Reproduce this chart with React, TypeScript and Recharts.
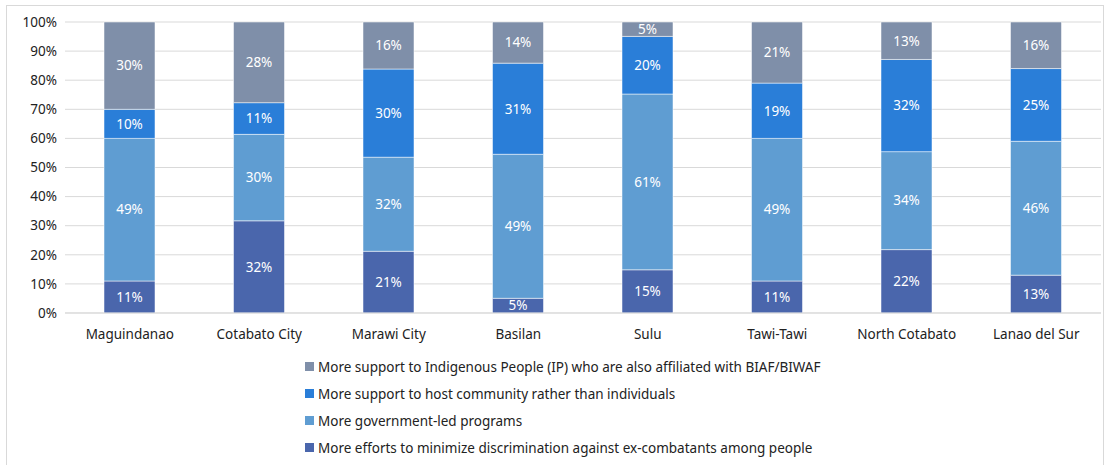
import { BarChart, Bar, XAxis, YAxis, CartesianGrid, LabelList } from 'recharts'

const provinces = ['Maguindanao', 'Cotabato City', 'Marawi City', 'Basilan', 'Sulu', 'Tawi-Tawi', 'North Cotabato', 'Lanao del Sur']
const effortsDiscrimination = [11, 32, 21, 5, 15, 11, 22, 13]
const governmentLed = [49, 30, 32, 49, 61, 49, 34, 46]
const hostCommunity = [10, 11, 30, 31, 20, 19, 32, 25]
const supportIP = [30, 28, 16, 14, 5, 21, 13, 16]
const yTicks = [0, 0.1, 0.2, 0.3, 0.4, 0.5, 0.6, 0.7, 0.8, 0.9, 1]

const series = [
  { key: 'efforts', name: 'More efforts to minimize discrimination against ex-combatants among people', color: '#4A66AC' },
  { key: 'gov', name: 'More government-led programs', color: '#5F9DD2' },
  { key: 'host', name: 'More support to host community rather than individuals', color: '#2A7ED8' },
  { key: 'ip', name: 'More support to Indigenous People (IP) who are also affiliated with BIAF/BIWAF', color: '#7F8FA9' },
]

const data = provinces.map((name, i) => ({
  name,
  efforts: effortsDiscrimination[i],
  gov: governmentLed[i],
  host: hostCommunity[i],
  ip: supportIP[i],
}))

const font = "'Noto Sans', sans-serif"

export default function App() {
  return (
    <div style={{ position: 'fixed', top: 0, left: 0, width: 1110, height: 465, background: '#fff' }}>
      <div style={{ position: 'absolute', left: 6, top: 5, width: 1096, height: 470, border: '1px solid #D9D9D9' }} />
      <BarChart width={1110} height={465} data={data} stackOffset="expand" barSize={51}
        margin={{ top: 22, right: 9, left: 8, bottom: 122 }}>
        <CartesianGrid stroke="#D9D9D9" vertical={false} />
        <XAxis dataKey="name" height={30} tickLine={false} axisLine={{ stroke: '#D9D9D9' }} interval={0}
          tick={{ fontSize: 13.5, fill: '#222', fontFamily: font }} tickMargin={10} />
        <YAxis ticks={yTicks} domain={[0, 1]} width={57} tickLine={false} axisLine={false} interval={0}
          tickFormatter={(v: number) => `${Math.round(v * 100)}%`}
          tick={{ fontSize: 13.5, fill: '#222', fontFamily: font }} />
        {series.map(s => (
          <Bar key={s.key} dataKey={s.key} name={s.name} stackId="a" fill={s.color}
            stroke="#ffffff" strokeOpacity={0.5} isAnimationActive={false}>
            <LabelList dataKey={s.key} position="center" formatter={(v: number) => `${v}%`}
              style={{ fontSize: 13.5, fill: '#fff', fontFamily: font }} />
          </Bar>
        ))}
      </BarChart>
      <div style={{ position: 'absolute', left: 305, top: 353, fontFamily: font, fontSize: 13.5, color: '#222' }}>
        {[...series].reverse().map(s => (
          <div key={s.key} style={{ display: 'flex', alignItems: 'center', height: 27 }}>
            <span style={{ width: 9, height: 9, background: s.color, marginRight: 4, display: 'inline-block' }} />
            {s.name}
          </div>
        ))}
      </div>
    </div>
  )
}
